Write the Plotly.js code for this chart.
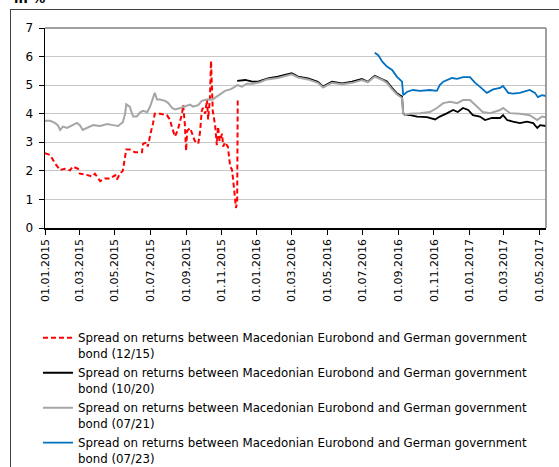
<!DOCTYPE html>
<html>
<head>
<meta charset="utf-8">
<script src="https://cdn.plot.ly/plotly-3.0.1.min.js"></script>
<style>
html,body{margin:0;padding:0;background:#fff;}
#wrap{position:relative;width:559px;height:467px;overflow:hidden;}
#frame{position:absolute;left:10px;top:9px;width:600px;height:500px;border:1.5px solid #404040;box-sizing:border-box;}
#chart{position:absolute;left:0;top:0;width:559px;height:467px;}
</style>
</head>
<body>
<div id="wrap"><div id="frame"></div><div id="chart"></div></div>
<script>
// Spread 12/15 (red dashed)
const redDates = ["2015-01-01","2015-01-10","2015-01-18","2015-01-27","2015-02-04","2015-02-13","2015-02-18","2015-02-27","2015-03-02","2015-03-14","2015-03-23","2015-03-28","2015-04-06","2015-04-14","2015-04-23","2015-05-02","2015-05-05","2015-05-10","2015-05-15","2015-05-21","2015-05-27","2015-06-05","2015-06-17","2015-06-19","2015-06-26","2015-06-27","2015-07-04","2015-07-06","2015-07-09","2015-07-18","2015-07-30","2015-08-04","2015-08-08","2015-08-13","2015-08-18","2015-08-25","2015-08-27","2015-08-30","2015-09-01","2015-09-03","2015-09-08","2015-09-11","2015-09-16","2015-09-22","2015-09-25","2015-09-28","2015-09-30","2015-10-04","2015-10-07","2015-10-09","2015-10-12","2015-10-14","2015-10-16","2015-10-17","2015-10-21","2015-10-24","2015-10-26","2015-10-29","2015-11-02","2015-11-04","2015-11-07","2015-11-12","2015-11-16","2015-11-19","2015-11-21","2015-11-24","2015-11-26","2015-11-28","2015-11-29"];
const redVals = [2.62,2.55,2.27,2.03,2.07,2.02,2.15,2.07,1.9,1.86,1.8,1.9,1.64,1.73,1.73,1.85,1.7,1.9,2.0,2.75,2.75,2.65,2.65,2.95,3.0,2.85,3.5,3.65,4.0,4.0,3.95,3.8,3.5,3.2,3.45,4.0,4.3,3.6,2.7,3.4,3.5,3.3,3.05,2.95,3.35,4.1,4.2,4.0,4.5,3.8,4.5,5.85,4.5,4.1,3.6,2.9,3.55,3.05,3.3,2.85,3.0,2.85,2.15,2.05,1.7,1.1,0.7,0.95,4.55];

// Spread 10/20 (black)
const blackDates = ["2015-11-28","2015-12-12","2015-12-24","2016-01-03","2016-01-20","2016-02-06","2016-03-01","2016-03-12","2016-03-29","2016-04-15","2016-04-24","2016-05-09","2016-05-27","2016-06-13","2016-06-30","2016-07-10","2016-07-22","2016-08-04","2016-08-12","2016-08-21","2016-08-29","2016-09-07","2016-09-09","2016-09-12","2016-09-21","2016-10-03","2016-10-20","2016-11-03","2016-11-11","2016-11-24","2016-12-04","2016-12-12","2016-12-21","2016-12-30","2017-01-07","2017-01-19","2017-01-28","2017-02-09","2017-02-23","2017-02-28","2017-03-07","2017-03-17","2017-03-29","2017-04-10","2017-04-21","2017-04-28","2017-05-03","2017-05-13"];
const blackVals = [5.15,5.18,5.12,5.12,5.24,5.3,5.42,5.3,5.24,5.12,4.95,5.12,5.06,5.12,5.22,5.12,5.33,5.22,5.13,4.9,4.72,4.6,4.02,3.95,3.95,3.9,3.88,3.8,3.9,4.02,4.13,4.06,4.2,4.13,3.95,3.9,3.78,3.85,3.85,3.95,3.78,3.72,3.67,3.72,3.67,3.5,3.6,3.57];

// Spread 07/21 (grey)
const greyDates = ["2015-01-01","2015-01-10","2015-01-18","2015-01-23","2015-01-27","2015-02-01","2015-02-08","2015-02-17","2015-02-25","2015-03-02","2015-03-07","2015-03-14","2015-03-25","2015-04-06","2015-04-18","2015-04-28","2015-05-07","2015-05-15","2015-05-19","2015-05-21","2015-05-27","2015-05-31","2015-06-02","2015-06-08","2015-06-14","2015-06-19","2015-06-26","2015-07-01","2015-07-06","2015-07-09","2015-07-13","2015-07-18","2015-07-27","2015-08-01","2015-08-08","2015-08-13","2015-08-22","2015-08-30","2015-09-08","2015-09-13","2015-09-22","2015-09-28","2015-10-07","2015-10-17","2015-10-24","2015-10-29","2015-11-07","2015-11-16","2015-11-21","2015-11-28","2015-12-06","2015-12-15","2015-12-25","2016-01-06","2016-01-18","2016-02-06","2016-03-01","2016-03-12","2016-03-29","2016-04-15","2016-04-24","2016-05-09","2016-05-27","2016-06-13","2016-06-30","2016-07-10","2016-07-22","2016-08-04","2016-08-12","2016-08-21","2016-08-29","2016-09-07","2016-09-09","2016-09-12","2016-09-21","2016-10-08","2016-10-25","2016-11-06","2016-11-17","2016-11-29","2016-12-11","2016-12-21","2017-01-02","2017-01-14","2017-01-24","2017-02-06","2017-02-23","2017-02-28","2017-03-12","2017-03-29","2017-04-15","2017-04-28","2017-05-06","2017-05-13"];
const greyVals = [3.75,3.75,3.68,3.6,3.43,3.55,3.5,3.6,3.68,3.6,3.43,3.5,3.6,3.57,3.64,3.6,3.57,3.7,4.0,4.33,4.25,4.0,3.9,3.9,4.05,4.1,4.05,4.25,4.55,4.73,4.5,4.5,4.45,4.38,4.2,4.15,4.2,4.25,4.32,4.25,4.3,4.45,4.5,4.5,4.6,4.7,4.8,4.85,4.9,5.0,4.95,5.05,5.05,5.1,5.2,5.25,5.38,5.27,5.2,5.08,4.92,5.08,5.03,5.08,5.18,5.1,5.3,5.18,5.08,4.85,4.68,4.55,4.0,3.95,4.0,4.02,4.06,4.2,4.37,4.42,4.37,4.48,4.48,4.25,4.06,4.02,4.13,4.2,4.02,4.0,3.95,3.78,3.9,3.88];

// Spread 07/23 (blue)
const blueDates = ["2016-07-22","2016-07-28","2016-08-04","2016-08-12","2016-08-21","2016-08-29","2016-09-07","2016-09-09","2016-09-16","2016-09-26","2016-10-08","2016-10-25","2016-11-06","2016-11-11","2016-11-17","2016-12-02","2016-12-11","2016-12-21","2017-01-02","2017-01-11","2017-01-19","2017-01-31","2017-02-11","2017-02-23","2017-02-28","2017-03-09","2017-03-17","2017-03-29","2017-04-15","2017-04-24","2017-04-29","2017-05-06","2017-05-13"];
const blueVals = [6.13,6.05,5.82,5.65,5.53,5.3,5.12,4.65,4.77,4.83,4.8,4.83,4.8,5.0,5.12,5.25,5.22,5.28,5.28,5.08,4.95,4.73,4.85,4.9,4.97,4.73,4.7,4.73,4.83,4.73,4.58,4.65,4.62];

const seriesNames = [
  "Spread on returns between Macedonian Eurobond and German government<br>bond (12/15)",
  "Spread on returns between Macedonian Eurobond and German government<br>bond (10/20)",
  "Spread on returns between Macedonian Eurobond and German government<br>bond (07/21)",
  "Spread on returns between Macedonian Eurobond and German government<br>bond (07/23)"
];
const yTicks = [0,1,2,3,4,5,6,7];

const FONT = "DejaVu Sans, Verdana, sans-serif";
const traces = [
  {x: redDates, y: redVals, name: seriesNames[0], legendgroup: "a", type: "scatter", mode: "lines",
   line: {color: "#ff0000", width: 2, dash: "5px,3px"}},
  {x: blackDates, y: blackVals, name: seriesNames[1], legendgroup: "b", type: "scatter", mode: "lines",
   line: {color: "#000000", width: 1.8}},
  {x: greyDates, y: greyVals, name: seriesNames[2], legendgroup: "c", type: "scatter", mode: "lines",
   line: {color: "#a6a6a6", width: 2}},
  {x: blueDates, y: blueVals, name: seriesNames[3], legendgroup: "d", type: "scatter", mode: "lines",
   line: {color: "#0070c0", width: 1.8}}
];

const layout = {
  width: 559, height: 467,
  margin: {l: 45, r: 13, t: 28, b: 239, pad: 0, autoexpand: false},
  paper_bgcolor: "rgba(0,0,0,0)",
  plot_bgcolor: "rgba(0,0,0,0)",
  font: {family: FONT, size: 11, color: "#000"},
  showlegend: true,
  legend: {x: -0.014, xanchor: "left", y: -0.478, yanchor: "top", valign: "top",
    font: {family: FONT, size: 11.8, color: "#000"}, bgcolor: "rgba(0,0,0,0)",
    tracegroupgap: 1.3},
  xaxis: {type: "date", range: ["2015-01-01", "2017-05-13"],
    tick0: "2015-01-01", dtick: "M2", tickformat: "%d.%m.%Y", tickangle: -90,
    ticks: "outside", ticklen: 5, tickcolor: "#000", tickwidth: 1,
    showline: true, linecolor: "#000", linewidth: 1.5,
    showgrid: false, zeroline: false, tickfont: {family: FONT, size: 11}},
  yaxis: {range: [0, 7], tickvals: yTicks, ticks: "outside", ticklen: 5,
    tickcolor: "#000", tickwidth: 1, showline: true, linecolor: "#000", linewidth: 1.5,
    showgrid: true, gridcolor: "#c8c8c8", gridwidth: 1, zeroline: false,
    ticklabelstandoff: 3, tickfont: {family: FONT, size: 12}},
  shapes: [
    {type: "line", xref: "paper", yref: "paper", x0: 0, x1: 1, y0: 1, y1: 1,
     line: {color: "#808080", width: 1.5}},
    {type: "line", xref: "paper", yref: "paper", x0: 1, x1: 1, y0: 0, y1: 1,
     line: {color: "#808080", width: 1.5}}
  ],
  annotations: [
    {text: "<b>in %</b>", xref: "paper", yref: "paper", x: -0.066, y: 1.10,
     xanchor: "left", yanchor: "bottom", showarrow: false,
     font: {family: FONT, size: 13, color: "#000"}}
  ]
};

Plotly.newPlot("chart", traces, layout, {displayModeBar: false, staticPlot: true});
</script>
</body>
</html>
